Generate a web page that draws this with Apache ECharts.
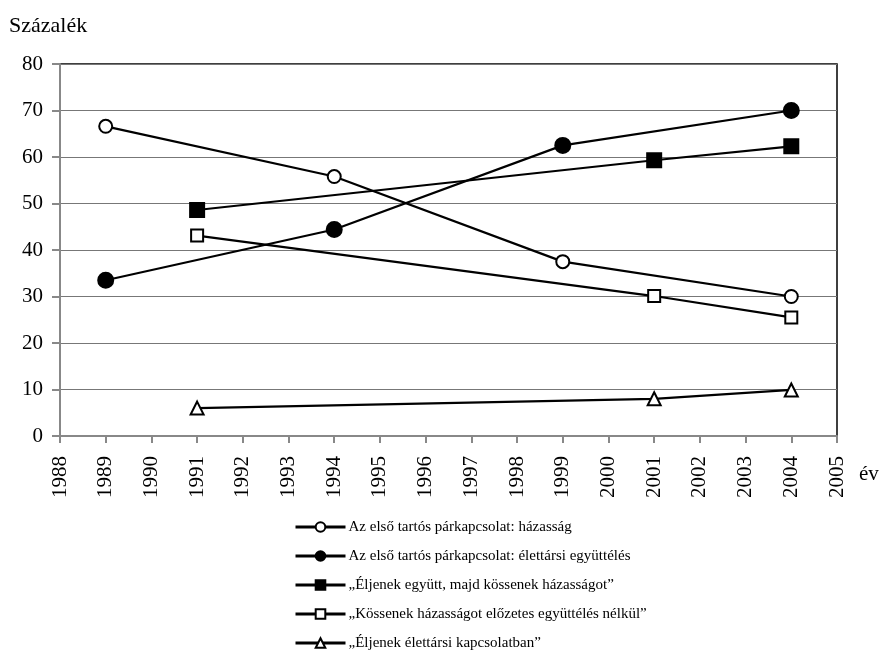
<!DOCTYPE html>
<html><head><meta charset="utf-8">
<script src="https://cdn.jsdelivr.net/npm/echarts@6/dist/echarts.min.js"></script>
<style>html,body{margin:0;padding:0;background:#fff}#c{width:891px;height:653px}</style>
</head><body><div id="c"></div>
<script>
var seriesNames = [
  'Az első tartós párkapcsolat: házasság',
  'Az első tartós párkapcsolat: élettársi együttélés',
  '„Éljenek együtt, majd kössenek házasságot”',
  '„Kössenek házasságot előzetes együttélés nélkül”',
  '„Éljenek élettársi kapcsolatban”'
];
var yearsA = [1989, 1994, 1999, 2004];
var yearsB = [1991, 2001, 2004];
var hazassag = [66.6, 55.8, 37.5, 30.0];
var elettarsi = [33.5, 44.4, 62.5, 70.0];
var egyuttMajd = [48.6, 59.3, 62.3];
var elozetesNelkul = [43.1, 30.1, 25.5];
var elettarsiKapcs = [6.0, 8.0, 9.9];
var yTicks = [0, 10, 20, 30, 40, 50, 60, 70, 80];

function pairs(xs, ys){ return xs.map(function(x,i){ return [x, ys[i]]; }); }
var font = 'Liberation Serif, Times New Roman, serif';
var symbols = ['circle','circle','rect','rect','triangle'];
var fills = ['#fff','#000','#000','#fff','#fff'];
var sizes = [13, 15, 14, 12, 13];
var datas = [pairs(yearsA, hazassag), pairs(yearsA, elettarsi), pairs(yearsB, egyuttMajd), pairs(yearsB, elozetesNelkul), pairs(yearsB, elettarsiKapcs)];

var legends = seriesNames.map(function(n, i){
  return {
    orient: 'vertical', left: 294, top: 519 + i * 29, padding: 0,
    itemWidth: 50, itemHeight: 12,
    lineStyle: {width: 3, color: '#000'},
    textStyle: {fontFamily: font, fontSize: 15, lineHeight: 16, color: '#000', padding: [0,0,0,-2]},
    data: [n]
  };
});

var chart = echarts.init(document.getElementById('c'));
chart.setOption({
  animation: false,
  backgroundColor: '#fff',
  grid: {left: 60, right: 54, top: 64, bottom: 217, show: true, borderColor: '#000', borderWidth: 1.5},
  xAxis: {
    type: 'value', min: 1988, max: 2005, interval: 1,
    axisLine: {show: true, lineStyle: {color: '#888', width: 2}},
    axisTick: {show: true, length: 7, lineStyle: {color: '#888', width: 2}},
    axisLabel: {rotate: 90, color: '#000', fontFamily: font, fontSize: 21, margin: 20,
      formatter: function(v){ return String(v); }},
    splitLine: {show: false}
  },
  yAxis: {
    type: 'value', min: 0, max: 80, interval: 10,
    axisLine: {show: true, lineStyle: {color: '#888', width: 2}},
    axisTick: {show: true, length: 8, lineStyle: {color: '#888', width: 2}},
    axisLabel: {color: '#000', fontFamily: font, fontSize: 21, margin: 17},
    splitLine: {show: true, lineStyle: {color: '#777', width: 1.2}}
  },
  legend: legends,
  graphic: [
    {type: 'text', left: 9, top: 15, style: {text: 'Százalék', font: '22px ' + font, fill: '#000'}},
    {type: 'text', left: 859, top: 464, style: {text: 'év', font: '21px ' + font, fill: '#000'}}
  ],
  series: seriesNames.map(function(n, i){
    return {
      name: n, type: 'line', data: datas[i],
      symbol: symbols[i], symbolSize: sizes[i], showAllSymbol: true,
      lineStyle: {color: '#000', width: 2.2},
      itemStyle: {color: fills[i], borderColor: '#000', borderWidth: 2},
      z: 3
    };
  })
});
</script></body></html>
